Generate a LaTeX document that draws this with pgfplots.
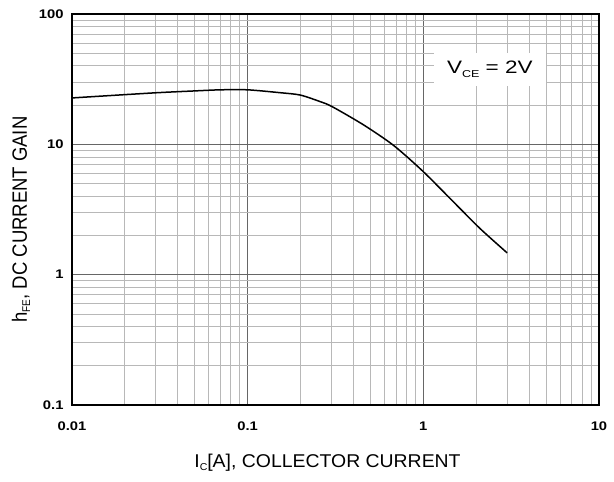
\documentclass[border=0pt]{standalone}
\usepackage{pgfplots}
\pgfplotsset{compat=1.18}
\usepackage{fontspec}
\setmainfont{Liberation Sans}
\newfontfamily\wideA{Liberation Sans}[FakeStretch=1.18]
\newfontfamily\wideB{Liberation Sans}[FakeStretch=1.05]
\newfontfamily\wideC{Liberation Sans}[FakeStretch=1.25]
\begin{document}
\begin{tikzpicture}[x=1pt,y=1pt]
\begin{axis}[
  at={(0,0)}, anchor=south west,
  scale only axis, width=527pt, height=391pt,
  xmode=log, ymode=log,
  xmin=0.01, xmax=10, ymin=0.1, ymax=100,
  xtick={0.01,0.1,1,10}, xticklabels={0.01,0.1,1,10},
  ytick={0.1,1,10,100}, yticklabels={0.1,1,10,100},
  grid=both,
  major grid style={draw=black!60, line width=0.9pt},
  minor grid style={draw=black!28, line width=0.8pt},
  major tick length=0pt, minor tick length=0pt,
  axis line style={line width=1.6pt},
  ticklabel style={font=\wideA\bfseries\fontsize{12.5}{12.5}\selectfont},
  xticklabel style={yshift=-13pt},
  yticklabel style={xshift=-5pt},
  xlabel={\wideB I\raisebox{-3pt}{\fontsize{10}{10}\selectfont C}[A], COLLECTOR CURRENT},
  ylabel={\scalebox{1}[1.12]{h\raisebox{-3pt}{\fontsize{10}{10}\selectfont FE}, DC CURRENT GAIN}},
  label style={font=\fontsize{18.5}{18.5}\selectfont},
  xlabel style={at={([yshift=-58pt,xshift=-8pt]axis description cs:0.5,0)}, anchor=center},
  ylabel style={at={([xshift=-51pt,yshift=-10pt]axis description cs:0,0.5)}, anchor=center},
]
\addplot[black, line width=1.5pt, smooth, tension=0.45] coordinates {
  (0.01,22.7) (0.029,24.8) (0.05,25.7) (0.07,26.2) (0.1,26.2)
  (0.153,24.9) (0.199,23.9) (0.258,21.3) (0.302,19.5) (0.457,14.1) (0.678,9.8)
  (1.0,6.17) (1.49,3.6) (2.11,2.25) (3.0,1.47)
};
\node[fill=white, inner xsep=13pt, inner ysep=8pt, font=\wideC\fontsize{18}{18}\selectfont]
  at (axis cs:2.39,37.6) {V\raisebox{-4.5pt}{\fontsize{10}{10}\selectfont CE} = 2V};
\end{axis}
\pgfresetboundingbox
\path (-72,-77) rectangle (542,405);
\end{tikzpicture}
\end{document}
